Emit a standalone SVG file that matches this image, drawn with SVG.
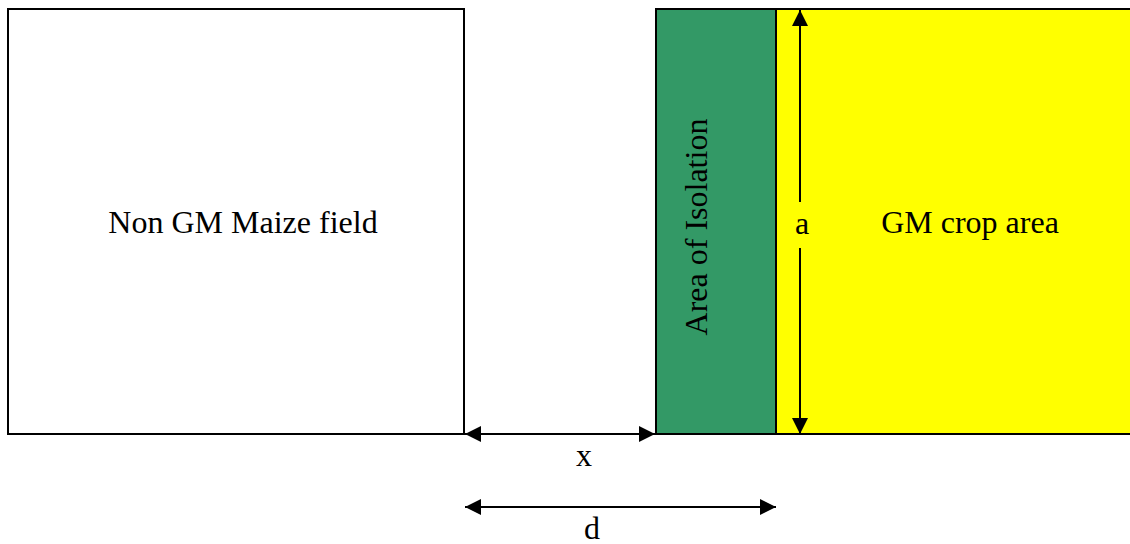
<svg xmlns="http://www.w3.org/2000/svg" width="1130" height="544" viewBox="0 0 1130 544">
<style>
text{font-family:"Liberation Serif","Times New Roman",serif;font-size:32px;fill:#000}
.ln{stroke:#000;stroke-width:2;fill:none}
</style>
<defs>
<marker id="ah" viewBox="0 0 16 16" refX="16" refY="8" markerWidth="16" markerHeight="16" markerUnits="userSpaceOnUse" orient="auto-start-reverse">
<path d="M0,0 L16,8 L0,16 Z" fill="#000"/>
</marker>
</defs>
<g id="nongm">
<rect x="8" y="9" width="456" height="425" fill="#fff" stroke="#000" stroke-width="2"/>
<text x="243" y="233" text-anchor="middle">Non GM Maize field</text>
</g>
<g id="gm">
<rect x="776" y="9" width="360" height="425" fill="#ffff00"/>
<path class="ln" d="M776,9 H1130 M776,434 H1130"/>
<text x="970" y="233" text-anchor="middle">GM crop area</text>
</g>
<g id="isolation">
<rect x="656" y="9" width="120" height="425" fill="#339966" stroke="#000" stroke-width="2"/>
<text transform="translate(707,227) rotate(-90)" text-anchor="middle">Area of Isolation</text>
</g>
<g id="connectors">
<line class="ln" x1="465" y1="434" x2="655" y2="434" marker-start="url(#ah)" marker-end="url(#ah)"/>
<line class="ln" x1="465" y1="507" x2="776" y2="507" marker-start="url(#ah)" marker-end="url(#ah)"/>
<line class="ln" x1="800" y1="202" x2="800" y2="10" marker-end="url(#ah)"/>
<line class="ln" x1="800" y1="248" x2="800" y2="434" marker-end="url(#ah)"/>
</g>
<g id="labels">
<text x="802" y="234" text-anchor="middle">a</text>
<text x="584" y="466" text-anchor="middle">x</text>
<text x="592" y="539" text-anchor="middle">d</text>
</g>
</svg>
